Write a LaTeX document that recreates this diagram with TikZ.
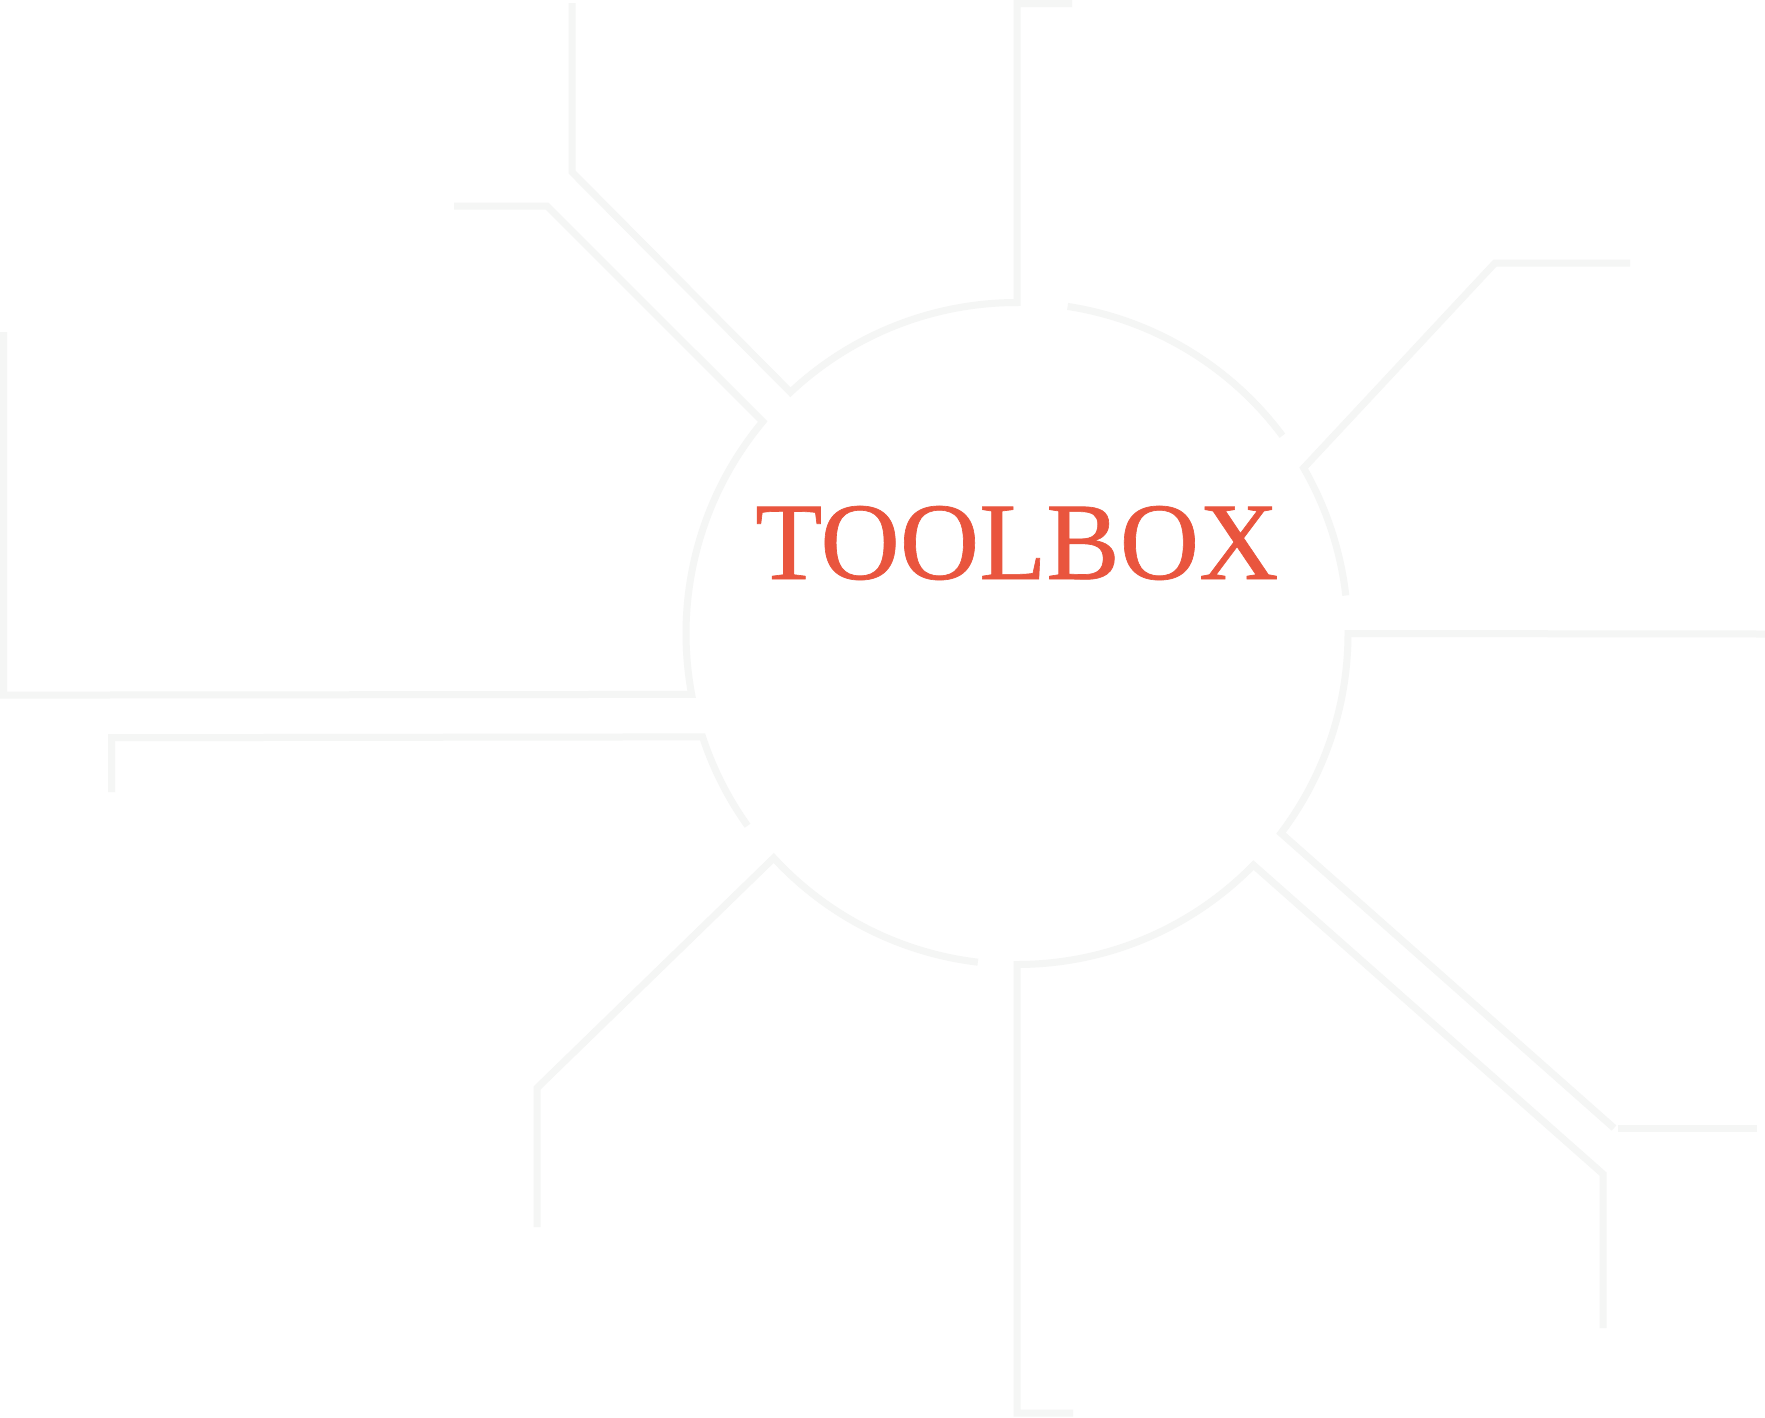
\documentclass[tikz,border=0pt]{standalone}
\usepackage{fontspec}
\usepackage{graphicx}
\newfontfamily\titlefont{Liberation Serif}[FakeBold=0.6]
\usetikzlibrary{calc}
\definecolor{tracegray}{RGB}{245,246,245}
\definecolor{titlered}{RGB}{233,85,62}
\begin{document}
\begin{tikzpicture}[x=1pt,y=-1pt,
  trace/.style={draw=tracegray, line width=7pt, line join=miter, line cap=butt}]
\useasboundingbox (0,0) rectangle (1765,1417);
\fill[white] (0,0) rectangle (1765,1417);
\def\R{331}
\coordinate (c) at (1017,633.5);

% upper-left branch into the top of the ring, ending in a hook at the top edge
\coordinate (a1) at (572,3);
\coordinate (a2) at (572,172);
\coordinate (a3) at (1017,3.5);
\coordinate (a4) at (1072,3.5);
\draw[trace] (a1) -- (a2) -- ($(c)+(-133.2:\R)$)
  arc[start angle=-133.2, end angle=-90, radius=\R] -- (a3) -- (a4);

% free arc, upper right
\draw[trace] ($(c)+(-81.2:\R)$) arc[start angle=-81.2, end angle=-36.7, radius=\R];

% upper-right branch
\coordinate (b1) at (1630,263);
\coordinate (b2) at (1495,263);
\draw[trace] (b1) -- (b2) -- ($(c)+(-30:\R)$)
  arc[start angle=-30, end angle=-6.6, radius=\R];

% right branch
\coordinate (r1) at (1765,634);
\coordinate (r2) at (1614,1128);
\coordinate (r3) at (1618,1128);
\coordinate (r4) at (1757,1128);
\draw[trace] (r1) -- ($(c)+(0:\R)$)
  arc[start angle=0, end angle=37.1, radius=\R] -- (r2);
\draw[trace] (r3) -- (r4);

% lower-right branch and bottom hook
\coordinate (d1) at (1603,1328);
\coordinate (d2) at (1603,1174);
\coordinate (d3) at (1017,1413);
\coordinate (d4) at (1073,1413);
\draw[trace] (d1) -- (d2) -- ($(c)+(44.4:\R)$)
  arc[start angle=44.4, end angle=90, radius=\R] -- (d3) -- (d4);

% lower-left branch
\coordinate (e1) at (537,1227);
\coordinate (e2) at (537,1088);
\draw[trace] (e1) -- (e2) -- ($(c)+(137.3:\R)$)
  arc[start angle=137.3, end angle=96.8, radius=\R];

% left branch with short drop
\coordinate (f1) at (111.5,737.7);
\coordinate (f2) at (111.5,792);
\draw[trace] ($(c)+(144.5:\R)$)
  arc[start angle=144.5, end angle=161.8, radius=\R] -- (f1) -- (f2);

% long left branch and upper-left spur
\coordinate (g1) at (3.5,332);
\coordinate (g2) at (3.5,695.1);
\coordinate (g3) at (547,206);
\coordinate (g4) at (454,206);
\draw[trace] (g1) -- (g2) -- ($(c)+(169.4:\R)$)
  arc[start angle=169.4, end angle=219.8, radius=\R] -- (g3) -- (g4);

% title
\node[anchor=base west, inner sep=0pt, text=titlered] (title) at (755,579)
  {\resizebox{523pt}{73pt}{\titlefont TOOLBOX}};
\end{tikzpicture}
\end{document}
